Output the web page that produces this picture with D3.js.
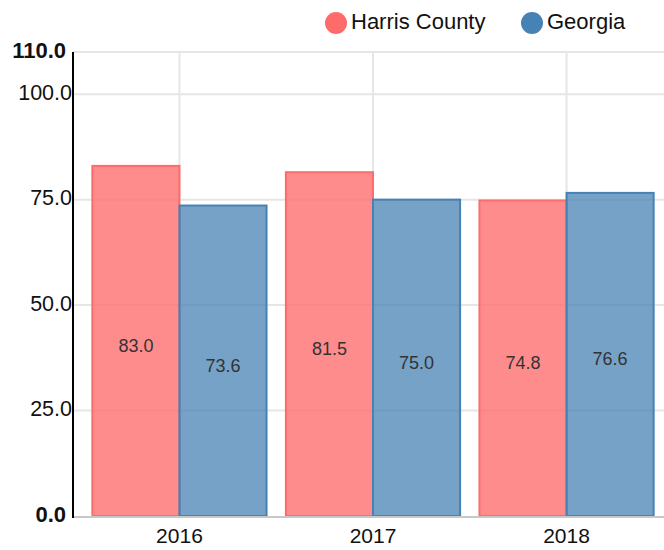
<!DOCTYPE html>
<html>
<head>
<meta charset="utf-8">
<script src="https://cdn.jsdelivr.net/npm/d3@7"></script>
<style>
  body { margin: 0; background: #fff; }
  svg { font-family: "Liberation Sans", Arial, Helvetica, sans-serif; display: block; }
</style>
</head>
<body>
<div id="chart"></div>
<script>
var years = ["2016", "2017", "2018"]
var seriesNames = ["Harris County", "Georgia"]
var harris = [83.0, 81.5, 74.8]
var georgia = [73.6, 75.0, 76.6]
var yTicks = [0, 25, 50, 75, 100, 110]
var colors = ["#ff6b6b", "#4682b4"]

drawChart()

function drawChart () {
    var width = 664,
        height = 550,
        left = 73,
        top = 52,
        bottom = 516,
        plotRight = 673

    var values = [harris, georgia]
    var opac = [0.78, 0.74]

    const svg = d3.select(document.getElementById('chart'))
        .append("svg")
        .attr("width", width)
        .attr("height", height)

    const xScale = d3.scaleBand()
        .domain(years)
        .range([left, plotRight])
        .padding(0.1)

    const xInner = d3.scaleBand()
        .domain(seriesNames)
        .range([0, xScale.bandwidth()])

    const yScale = d3.scaleLinear()
        .domain([0, 110])
        .range([bottom, top])

    // grid
    svg.append('g')
        .selectAll('line')
        .data(yTicks.filter(d => d > 0))
        .enter()
        .append('line')
        .attr('x1', left)
        .attr('x2', width)
        .attr('y1', d => yScale(d))
        .attr('y2', d => yScale(d))
        .attr('stroke', '#e6e6e6')
        .attr('stroke-width', 2)

    svg.append('g')
        .selectAll('line')
        .data(years)
        .enter()
        .append('line')
        .attr('x1', d => xScale(d) + xScale.bandwidth() / 2)
        .attr('x2', d => xScale(d) + xScale.bandwidth() / 2)
        .attr('y1', top)
        .attr('y2', bottom)
        .attr('stroke', '#e6e6e6')
        .attr('stroke-width', 2)

    // bars
    seriesNames.forEach(function (name, s) {
        var g = svg.append('g')
        g.selectAll('rect')
            .data(values[s])
            .enter()
            .append('rect')
            .attr('x', (d, i) => xScale(years[i]) + xInner(name))
            .attr('y', d => yScale(d))
            .attr('width', xInner.bandwidth())
            .attr('height', d => bottom - yScale(d))
            .attr('fill', colors[s])
            .attr('fill-opacity', opac[s])
            .attr('stroke', colors[s])
            .attr('stroke-width', 2)

        g.selectAll('text')
            .data(values[s])
            .enter()
            .append('text')
            .attr('x', (d, i) => xScale(years[i]) + xInner(name) + xInner.bandwidth() / 2)
            .attr('y', d => (yScale(d) + bottom) / 2 + 6)
            .attr('text-anchor', 'middle')
            .attr('dominant-baseline', 'middle')
            .attr('font-size', 18)
            .attr('fill', '#333')
            .text(d => d.toFixed(1))
    })

    // x axis
    svg.append('line')
        .attr('x1', left)
        .attr('x2', width)
        .attr('y1', bottom + 1)
        .attr('y2', bottom + 1)
        .attr('stroke', '#c8c8c8')
        .attr('stroke-width', 2)

    const xAxis = d3.axisBottom(xScale).tickSize(0).tickPadding(12)
    svg.append('g')
        .attr('transform', 'translate(0,' + bottom + ')')
        .call(xAxis)
        .call(g => g.select('.domain').remove())
        .selectAll('text')
        .attr('font-size', 21)
        .attr('fill', '#111')

    // y axis
    svg.append('line')
        .attr('x1', left)
        .attr('x2', left)
        .attr('y1', top)
        .attr('y2', bottom + 2)
        .attr('stroke', '#000')
        .attr('stroke-width', 2)

    svg.append('g')
        .selectAll('text')
        .data(yTicks)
        .enter()
        .append('text')
        .attr('x', d => (d === 0 || d === 110) ? left - 7 : left - 1)
        .attr('y', d => yScale(d))
        .attr('text-anchor', 'end')
        .attr('dominant-baseline', 'middle')
        .attr('font-size', d => (d === 0 || d === 110) ? 22 : 21.5)
        .attr('font-weight', d => (d === 0 || d === 110) ? 'bold' : 'normal')
        .attr('fill', '#111')
        .text(d => d.toFixed(1))

    // legend
    var legendX = [336, 532]
    var legend = svg.append('g')
        .selectAll('g')
        .data(seriesNames)
        .enter()
        .append('g')
        .attr('transform', (d, i) => 'translate(' + legendX[i] + ',23)')

    legend.append('circle')
        .attr('r', 11)
        .attr('fill', (d, i) => colors[i])

    legend.append('text')
        .attr('x', 15)
        .attr('dominant-baseline', 'middle')
        .attr('font-size', 22)
        .attr('fill', '#111')
        .text(d => d)
}
</script>
</body>
</html>
